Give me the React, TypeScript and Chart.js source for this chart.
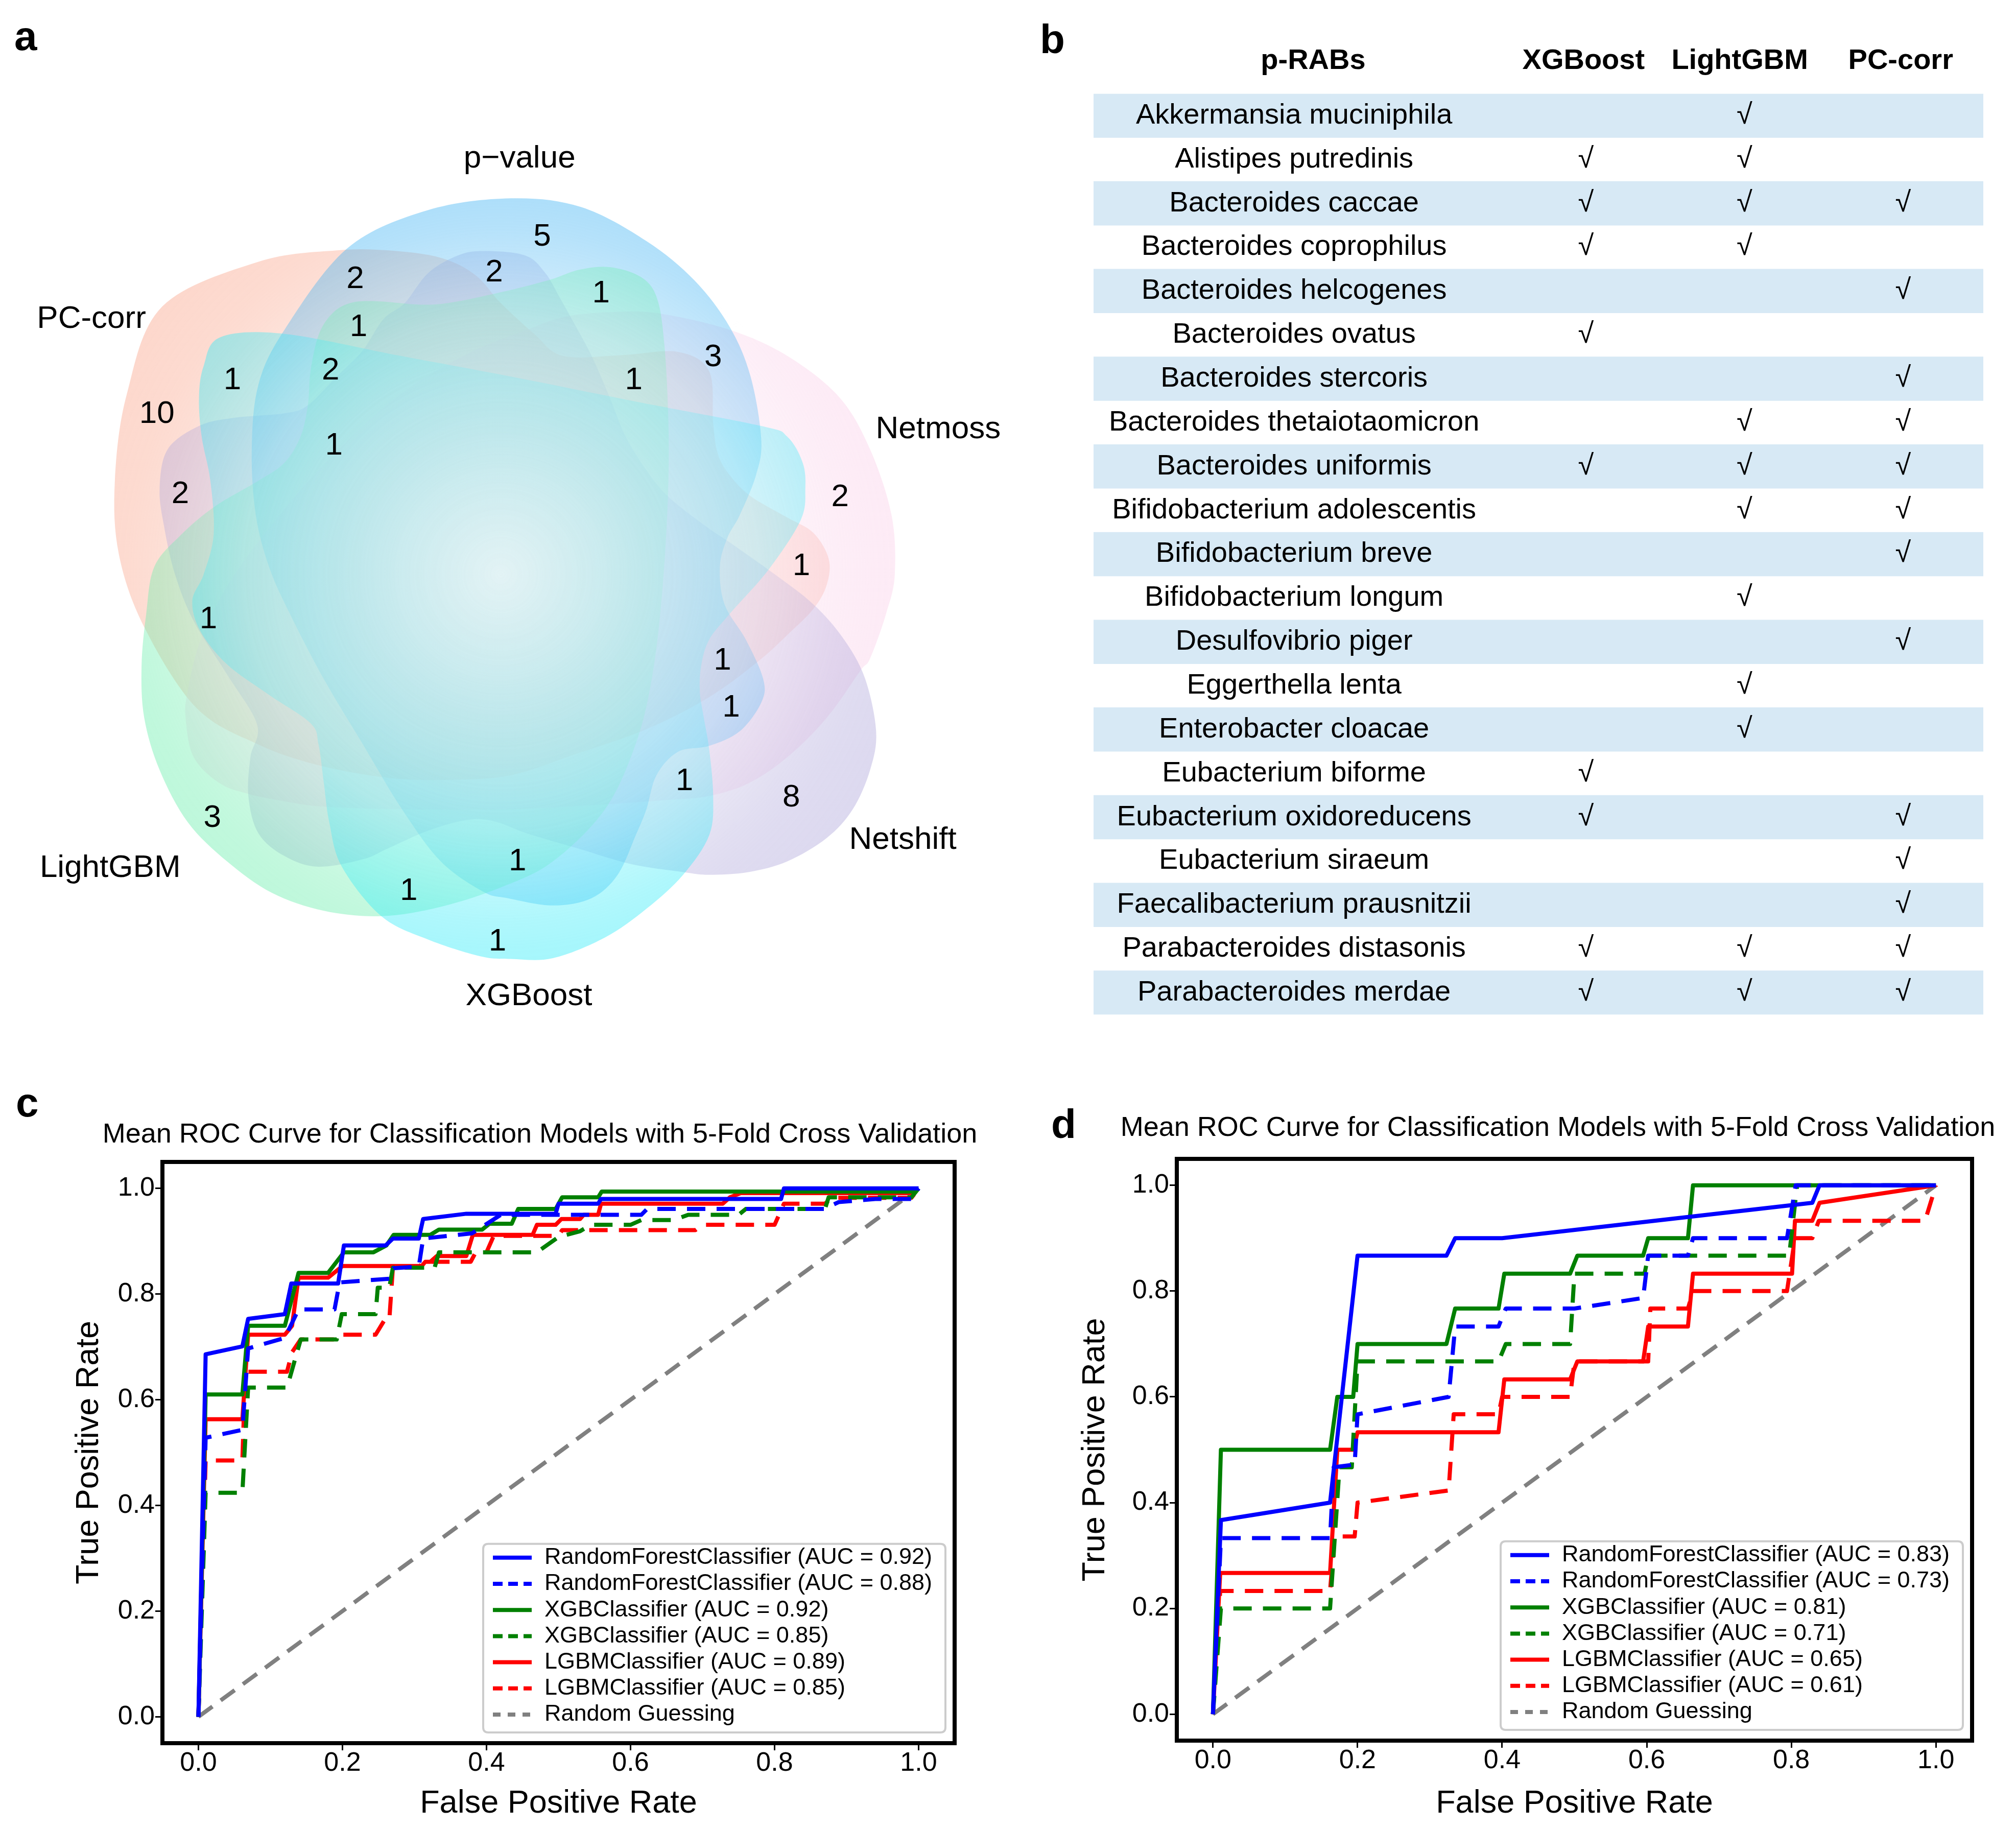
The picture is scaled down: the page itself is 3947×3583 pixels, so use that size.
import React, { useEffect, useRef } from "react";
import { Chart, registerables } from "chart.js";

Chart.register(...registerables);

const FONT = "'Liberation Sans', Arial, Helvetica, sans-serif";
Chart.defaults.font.family = FONT;
Chart.defaults.color = "#000";

type Pt = [number, number];

// ======================= Panel a : six-set Venn =======================
const vennSetNames = ["p\u2212value", "Netmoss", "Netshift", "XGBoost", "LightGBM", "PC-corr"];
const vennRegionCounts = [5, 2, 2, 1, 1, 3, 1, 2, 1, 10, 1, 2, 2, 1, 1, 1, 1, 1, 8, 3, 1, 1, 1];

// ---- layout of the Venn (drawing units, 1 unit = VENN_K px) ----
const VENN_K = 1.3074;
const vennRegionAnchors: Pt[] = [
  [812, 355], [532, 418], [740, 408], [900, 440], [537, 490], [1068, 535], [348, 570], [495, 555],
  [949, 570], [235, 620], [500, 668], [1258, 745], [270, 740], [1200, 848], [312, 928], [1082, 990],
  [1095, 1060], [1025, 1170], [1185, 1195], [318, 1225], [775, 1290], [612, 1335], [745, 1410],
];
const vennSetLabelAnchors: Pt[] = [[778, 238], [1405, 643], [1352, 1258], [792, 1492], [165, 1300], [137, 478]];
const vennColors: [number, number, number][] = [
  [62, 178, 243],   // p-value
  [250, 208, 233],  // Netmoss
  [178, 170, 220],  // Netshift
  [47, 235, 248],   // XGBoost
  [105, 238, 172],  // LightGBM
  [250, 168, 143],  // PC-corr
];
const vennDrawOrder = [5, 1, 2, 0, 4, 3];
const VENN_CENTER: Pt = [750, 860];
const vennShapes: Pt[][] = [
  // p-value
  [[765, 297], [870, 310], [968, 361], [1040, 420], [1093, 490], [1124, 564], [1140, 658], [1132, 712], [1108, 771],
   [1089, 806], [1078, 849], [1085, 905], [1117, 958], [1143, 1017], [1140, 1052], [1108, 1095], [1062, 1117],
   [1015, 1126], [983, 1161], [968, 1212], [952, 1251], [925, 1310], [886, 1345], [828, 1356], [760, 1345],
   [723, 1335], [660, 1290], [602, 1212], [543, 1114], [485, 1017], [434, 919], [403, 849], [383, 771],
   [377, 673], [387, 576], [426, 494], [520, 372], [640, 315]],
  // Netmoss
  [[789, 494], [848, 474], [925, 467], [991, 470], [1093, 494], [1179, 533], [1257, 595], [1303, 673], [1335, 771],
   [1340, 860], [1327, 919], [1303, 986], [1288, 1005], [1238, 1075], [1179, 1134], [1121, 1173], [1062, 1192],
   [1000, 1198], [900, 1205], [760, 1212], [600, 1212], [485, 1208], [426, 1200], [372, 1189], [329, 1173],
   [290, 1134], [278, 1075], [281, 1036], [300, 960], [345, 870], [420, 770], [500, 680], [600, 590], [700, 530]],
  // Netshift
  [[606, 454], [640, 410], [680, 385], [719, 376], [785, 382], [816, 408], [839, 447], [863, 490], [886, 533],
   [913, 595], [937, 654], [968, 704], [1000, 743], [1054, 786], [1101, 818], [1160, 860], [1218, 905],
   [1262, 955], [1295, 1015], [1312, 1095], [1303, 1153], [1277, 1212], [1238, 1255], [1179, 1290], [1121, 1306],
   [1062, 1310], [1023, 1306], [945, 1294], [867, 1271], [789, 1248], [740, 1230], [699, 1228], [641, 1244],
   [582, 1270], [543, 1287], [476, 1298], [426, 1282], [387, 1248], [372, 1193], [375, 1134], [385, 1085],
   [340, 1010], [290, 930], [262, 860], [246, 790], [239, 732], [251, 673], [298, 638], [348, 626], [426, 619],
   [461, 607], [504, 564], [543, 525], [574, 478]],
  // XGBoost
  [[330, 505], [426, 500], [600, 533], [765, 564], [950, 601], [1140, 638], [1179, 654], [1202, 693], [1206, 732],
   [1199, 779], [1151, 853], [1093, 919], [1062, 958], [1050, 997], [1048, 1036], [1054, 1075], [1062, 1122],
   [1068, 1192], [1062, 1251], [1023, 1310], [968, 1361], [906, 1404], [828, 1435], [765, 1436], [719, 1432],
   [641, 1407], [571, 1372], [512, 1298], [493, 1231], [485, 1173], [477, 1115], [465, 1083], [402, 1040],
   [340, 995], [300, 945], [288, 900], [305, 860], [320, 800], [315, 720], [302, 654], [298, 595], [305, 548]],
  // LightGBM
  [[563, 451], [650, 456], [740, 440], [820, 420], [867, 404], [913, 400], [960, 415], [984, 447], [995, 517],
   [1001, 634], [1000, 751], [991, 895], [976, 1017], [952, 1114], [906, 1212], [828, 1290], [750, 1329],
   [660, 1358], [571, 1372], [485, 1364], [407, 1337], [340, 1290], [281, 1231], [239, 1153], [216, 1075],
   [212, 997], [219, 919], [231, 849], [270, 802], [321, 759], [387, 720], [426, 693], [450, 654], [461, 607],
   [465, 556], [477, 502], [497, 470], [524, 454]],
  // PC-corr
  [[243, 459], [387, 392], [504, 375], [582, 375], [660, 386], [712, 412], [750, 454], [800, 500], [843, 533],
   [930, 532], [1015, 527], [1062, 556], [1068, 634], [1075, 680], [1093, 712], [1124, 743], [1179, 775],
   [1218, 798], [1241, 837], [1238, 876], [1218, 912], [1180, 950], [1136, 990], [1062, 1044], [968, 1092],
   [860, 1130], [765, 1161], [670, 1168], [582, 1165], [477, 1146], [387, 1115], [294, 1060], [216, 939],
   [178, 830], [172, 720], [190, 590]],
];

// ======================= Panel b : table =======================
const species = [
  "Akkermansia muciniphila", "Alistipes putredinis", "Bacteroides caccae", "Bacteroides coprophilus",
  "Bacteroides helcogenes", "Bacteroides ovatus", "Bacteroides stercoris", "Bacteroides thetaiotaomicron",
  "Bacteroides uniformis", "Bifidobacterium adolescentis", "Bifidobacterium breve", "Bifidobacterium longum",
  "Desulfovibrio piger", "Eggerthella lenta", "Enterobacter cloacae", "Eubacterium biforme",
  "Eubacterium oxidoreducens", "Eubacterium siraeum", "Faecalibacterium prausnitzii",
  "Parabacteroides distasonis", "Parabacteroides merdae",
];
const xgboostPicks = [0, 1, 1, 1, 0, 1, 0, 0, 1, 0, 0, 0, 0, 0, 0, 1, 1, 0, 0, 1, 1];
const lightgbmPicks = [1, 1, 1, 1, 0, 0, 0, 1, 1, 1, 0, 1, 0, 1, 1, 0, 0, 0, 0, 1, 1];
const pccorrPicks = [0, 0, 1, 0, 1, 0, 1, 1, 1, 1, 1, 0, 1, 0, 0, 0, 1, 1, 1, 1, 1];
const tableHeaders = ["p-RABs", "XGBoost", "LightGBM", "PC-corr"];
// column positions (layout, in column units)
const TABLE_XMIN = -2.105;
const TABLE_XMAX = 3.506;
const tableHeaderPos = [-0.72, 0.985, 1.97, 2.985];
const tableCheckPos = [1, 2, 3];

// ======================= Panels c, d : ROC =======================
const rocTickValues = [0, 0.2, 0.4, 0.6, 0.8, 1.0];
const rocTitle = "Mean ROC Curve for Classification Models with 5-Fold Cross Validation";

// panel c
const rfSolidC: Pt[] = [[0, 0], [0.01, 0.686], [0.061, 0.701], [0.069, 0.753], [0.12, 0.762], [0.129, 0.82], [0.194, 0.82],
  [0.202, 0.892], [0.26, 0.892], [0.27, 0.905], [0.306, 0.905], [0.312, 0.942], [0.372, 0.952], [0.496, 0.952],
  [0.5, 0.971], [0.555, 0.971], [0.559, 0.98], [0.809, 0.98], [0.813, 1.0], [1, 1]];
const rfDashC: Pt[] = [[0, 0], [0.01, 0.528], [0.061, 0.543], [0.069, 0.697], [0.12, 0.717], [0.139, 0.771], [0.189, 0.771],
  [0.196, 0.822], [0.265, 0.829], [0.271, 0.849], [0.306, 0.852], [0.312, 0.905], [0.38, 0.915], [0.42, 0.95],
  [0.615, 0.95], [0.623, 0.961], [0.869, 0.961], [0.889, 0.974], [0.94, 0.98], [0.99, 0.98], [1, 1]];
const xgbSolidC: Pt[] = [[0, 0], [0.01, 0.61], [0.061, 0.61], [0.069, 0.74], [0.12, 0.74], [0.139, 0.84], [0.18, 0.84],
  [0.202, 0.879], [0.243, 0.879], [0.261, 0.892], [0.271, 0.912], [0.322, 0.912], [0.334, 0.922], [0.394, 0.922],
  [0.404, 0.933], [0.435, 0.933], [0.444, 0.961], [0.496, 0.961], [0.505, 0.983], [0.555, 0.983], [0.56, 0.994],
  [0.99, 0.994], [1, 1]];
const xgbDashC: Pt[] = [[0, 0], [0.01, 0.424], [0.061, 0.424], [0.069, 0.623], [0.123, 0.623], [0.142, 0.714], [0.192, 0.714],
  [0.199, 0.762], [0.246, 0.762], [0.249, 0.812], [0.265, 0.812], [0.27, 0.85], [0.328, 0.85], [0.334, 0.879],
  [0.47, 0.879], [0.5, 0.908], [0.53, 0.919], [0.545, 0.931], [0.6, 0.931], [0.615, 0.94], [0.66, 0.94],
  [0.68, 0.95], [0.75, 0.95], [0.76, 0.961], [0.87, 0.961], [0.875, 0.983], [0.99, 0.983], [1, 1]];
const lgbmSolidC: Pt[] = [[0, 0], [0.01, 0.563], [0.061, 0.563], [0.069, 0.723], [0.12, 0.723], [0.13, 0.74], [0.139, 0.831],
  [0.18, 0.831], [0.2, 0.853], [0.31, 0.853], [0.315, 0.861], [0.322, 0.861], [0.331, 0.872], [0.372, 0.872],
  [0.381, 0.912], [0.464, 0.912], [0.47, 0.931], [0.496, 0.931], [0.504, 0.942], [0.53, 0.942], [0.535, 0.95],
  [0.555, 0.95], [0.559, 0.971], [0.728, 0.971], [0.738, 0.983], [0.753, 0.991], [0.99, 0.991], [1, 1]];
const lgbmDashC: Pt[] = [[0, 0], [0.01, 0.485], [0.061, 0.485], [0.065, 0.653], [0.123, 0.653], [0.13, 0.69], [0.142, 0.714],
  [0.192, 0.714], [0.2, 0.723], [0.246, 0.723], [0.258, 0.75], [0.265, 0.75], [0.27, 0.85], [0.306, 0.85],
  [0.312, 0.861], [0.378, 0.861], [0.385, 0.879], [0.4, 0.879], [0.41, 0.91], [0.5, 0.91], [0.505, 0.921],
  [0.69, 0.921], [0.7, 0.931], [0.8, 0.931], [0.813, 0.971], [0.87, 0.971], [0.88, 0.982], [0.99, 0.982], [1, 1]];
const chanceLine: Pt[] = [[0, 0], [1, 1]];
const rocLabelsC = [
  "RandomForestClassifier (AUC = 0.92)", "RandomForestClassifier (AUC = 0.88)",
  "XGBClassifier (AUC = 0.92)", "XGBClassifier (AUC = 0.85)",
  "LGBMClassifier (AUC = 0.89)", "LGBMClassifier (AUC = 0.85)", "Random Guessing",
];

// panel d
const rfSolidD: Pt[] = [[0, 0], [0.011, 0.367], [0.162, 0.4], [0.2, 0.867], [0.323, 0.867], [0.335, 0.9], [0.4, 0.9],
  [0.829, 0.967], [0.839, 1.0], [1, 1]];
const rfDashD: Pt[] = [[0, 0], [0.011, 0.333], [0.162, 0.333], [0.167, 0.467], [0.196, 0.472], [0.2, 0.567], [0.326, 0.6],
  [0.335, 0.733], [0.395, 0.733], [0.405, 0.767], [0.5, 0.767], [0.595, 0.787], [0.602, 0.867], [0.657, 0.867],
  [0.664, 0.9], [0.794, 0.9], [0.806, 1.0], [1, 1]];
const xgbSolidD: Pt[] = [[0, 0], [0.011, 0.5], [0.162, 0.5], [0.172, 0.6], [0.194, 0.6], [0.2, 0.7], [0.323, 0.7],
  [0.335, 0.767], [0.395, 0.767], [0.403, 0.833], [0.494, 0.833], [0.504, 0.867], [0.595, 0.867], [0.602, 0.9],
  [0.657, 0.9], [0.664, 1.0], [1, 1]];
const xgbDashD: Pt[] = [[0, 0], [0.011, 0.2], [0.162, 0.2], [0.175, 0.467], [0.192, 0.467], [0.2, 0.667], [0.395, 0.667],
  [0.405, 0.7], [0.494, 0.7], [0.5, 0.833], [0.597, 0.833], [0.602, 0.867], [0.797, 0.867], [0.808, 1.0], [1, 1]];
const lgbmSolidD: Pt[] = [[0, 0], [0.01, 0.267], [0.162, 0.267], [0.172, 0.5], [0.194, 0.5], [0.2, 0.533], [0.395, 0.533],
  [0.403, 0.633], [0.494, 0.633], [0.504, 0.667], [0.595, 0.667], [0.602, 0.733], [0.657, 0.733], [0.664, 0.833],
  [0.801, 0.833], [0.805, 0.933], [0.829, 0.933], [0.839, 0.967], [1, 1]];
const lgbmDashD: Pt[] = [[0, 0], [0.01, 0.233], [0.162, 0.233], [0.168, 0.336], [0.196, 0.336], [0.2, 0.4], [0.326, 0.423],
  [0.333, 0.567], [0.395, 0.567], [0.4, 0.6], [0.494, 0.6], [0.5, 0.667], [0.602, 0.667], [0.605, 0.767],
  [0.657, 0.767], [0.664, 0.8], [0.794, 0.8], [0.805, 0.9], [0.829, 0.9], [0.838, 0.933], [0.985, 0.933], [1, 1]];
const rocLabelsD = [
  "RandomForestClassifier (AUC = 0.83)", "RandomForestClassifier (AUC = 0.73)",
  "XGBClassifier (AUC = 0.81)", "XGBClassifier (AUC = 0.71)",
  "LGBMClassifier (AUC = 0.65)", "LGBMClassifier (AUC = 0.61)", "Random Guessing",
];

// ======================= plugins =======================
function closedSpline(ctx: CanvasRenderingContext2D, pts: Pt[]) {
  const n = pts.length;
  ctx.moveTo(pts[0][0], pts[0][1]);
  for (let i = 0; i < n; i++) {
    const p0 = pts[(i - 1 + n) % n], p1 = pts[i], p2 = pts[(i + 1) % n], p3 = pts[(i + 2) % n];
    ctx.bezierCurveTo(
      p1[0] + (p2[0] - p0[0]) / 6, p1[1] + (p2[1] - p0[1]) / 6,
      p2[0] - (p3[0] - p1[0]) / 6, p2[1] - (p3[1] - p1[1]) / 6,
      p2[0], p2[1]
    );
  }
  ctx.closePath();
}

const vennPlugin = {
  id: "vennShapes",
  beforeDatasetsDraw(chart: any) {
    const { ctx } = chart;
    const xs = chart.scales.x, ys = chart.scales.y;
    const px = (p: Pt): Pt => [xs.getPixelForValue(p[0]), ys.getPixelForValue(p[1])];
    const c = px(VENN_CENTER);
    const unit = xs.getPixelForValue(1) - xs.getPixelForValue(0);
    const R = 700 * unit;
    ctx.save();
    for (const idx of vennDrawOrder) {
      const [r, g, b] = vennColors[idx];
      const grad = ctx.createRadialGradient(c[0], c[1], 0, c[0], c[1], R);
      grad.addColorStop(0, `rgba(${r},${g},${b},0.10)`);
      grad.addColorStop(0.55, `rgba(${r},${g},${b},0.26)`);
      grad.addColorStop(0.8, `rgba(${r},${g},${b},0.42)`);
      grad.addColorStop(1, `rgba(${r},${g},${b},0.48)`);
      ctx.beginPath();
      closedSpline(ctx, vennShapes[idx].map(px));
      ctx.fillStyle = grad;
      ctx.fill();
    }
    const gR = 520 * unit;
    const glow = ctx.createRadialGradient(c[0], c[1], 0, c[0], c[1], gR);
    glow.addColorStop(0, "rgba(255,255,255,0.5)");
    glow.addColorStop(0.6, "rgba(255,255,255,0.25)");
    glow.addColorStop(1, "rgba(255,255,255,0)");
    ctx.beginPath();
    ctx.arc(c[0], c[1], gR, 0, Math.PI * 2);
    ctx.fillStyle = glow;
    ctx.fill();
    ctx.restore();
  },
  afterDatasetsDraw(chart: any) {
    const { ctx } = chart;
    const xs = chart.scales.x, ys = chart.scales.y;
    const meta = chart.getDatasetMeta(0);
    const ds = chart.data.datasets[0];
    ctx.save();
    ctx.fillStyle = "#000";
    ctx.textAlign = "center";
    ctx.textBaseline = "middle";
    ctx.font = `62px ${FONT}`;
    meta.data.forEach((el: any, i: number) => {
      ctx.fillText(String(ds.data[i].count), el.x, el.y);
    });
    vennSetNames.forEach((name, i) => {
      const p = vennSetLabelAnchors[i];
      ctx.fillText(name, xs.getPixelForValue(p[0]), ys.getPixelForValue(p[1]));
    });
    ctx.restore();
  },
};

const checkPlugin = {
  id: "checkMarks",
  afterDatasetsDraw(chart: any) {
    const { ctx } = chart;
    const xs = chart.scales.x, ys = chart.scales.y;
    const cols = [xgboostPicks, lightgbmPicks, pccorrPicks];
    ctx.save();
    ctx.fillStyle = "#000";
    ctx.textAlign = "center";
    ctx.textBaseline = "middle";
    ctx.font = `56px 'Liberation Sans', 'DejaVu Sans', sans-serif`;
    cols.forEach((col, ci) => {
      col.forEach((v, ri) => {
        if (v) ctx.fillText("\u221A", xs.getPixelForValue(tableCheckPos[ci]), ys.getPixelForValue(ri));
      });
    });
    ctx.restore();
  },
};

const framePlugin = {
  id: "frame",
  afterDatasetsDraw(chart: any) {
    const { ctx, chartArea: a } = chart;
    ctx.save();
    ctx.strokeStyle = "#000";
    ctx.lineWidth = 8;
    ctx.setLineDash([]);
    ctx.strokeRect(a.left, a.top, a.right - a.left, a.bottom - a.top);
    ctx.restore();
  },
};

function roundedRect(ctx: CanvasRenderingContext2D, x: number, y: number, w: number, h: number, r: number) {
  ctx.beginPath();
  ctx.moveTo(x + r, y);
  ctx.lineTo(x + w - r, y);
  ctx.quadraticCurveTo(x + w, y, x + w, y + r);
  ctx.lineTo(x + w, y + h - r);
  ctx.quadraticCurveTo(x + w, y + h, x + w - r, y + h);
  ctx.lineTo(x + r, y + h);
  ctx.quadraticCurveTo(x, y + h, x, y + h - r);
  ctx.lineTo(x, y + r);
  ctx.quadraticCurveTo(x, y, x + r, y);
  ctx.closePath();
}

const rocLegendPlugin = {
  id: "rocLegend",
  afterDraw(chart: any) {
    const { ctx, chartArea } = chart;
    const ds = chart.data.datasets;
    ctx.save();
    ctx.font = `45px ${FONT}`;
    const textW = Math.max(...ds.map((d: any) => ctx.measureText(d.label).width));
    const rowH = 51.2;
    const w = 120 + textW + 26;
    const h = 27 + rowH * (ds.length - 1) + 35;
    const right = chartArea.right - 18;
    const bottom = chartArea.bottom - 21;
    const left = right - w;
    const top = bottom - h;
    roundedRect(ctx, left, top, w, h, 10);
    ctx.fillStyle = "rgba(255,255,255,0.8)";
    ctx.fill();
    ctx.strokeStyle = "#CCCCCC";
    ctx.lineWidth = 4;
    ctx.stroke();
    ds.forEach((d: any, i: number) => {
      const y = top + 27 + i * rowH;
      ctx.beginPath();
      ctx.strokeStyle = d.borderColor;
      ctx.lineWidth = 8;
      ctx.lineCap = "butt";
      const dashed = d.borderDash && d.borderDash.length;
      ctx.setLineDash(dashed ? (i === ds.length - 1 ? [15, 14] : [19, 11]) : []);
      ctx.moveTo(left + 19, y);
      ctx.lineTo(left + 95, y);
      ctx.stroke();
      ctx.setLineDash([]);
      ctx.fillStyle = "#000";
      ctx.textAlign = "left";
      ctx.textBaseline = "middle";
      ctx.fillText(d.label, left + 120, y);
    });
    ctx.restore();
  },
};

// ======================= configs =======================
function vennConfig(W: number, H: number): any {
  return {
    type: "scatter",
    data: {
      datasets: [{
        label: "Region sizes",
        data: vennRegionCounts.map((count, i) => ({ x: vennRegionAnchors[i][0], y: vennRegionAnchors[i][1], count })),
        pointRadius: 0,
        pointHoverRadius: 0,
      }],
    },
    options: {
      responsive: false, animation: false, devicePixelRatio: 1, events: [],
      layout: { padding: 0 },
      plugins: { legend: { display: false }, tooltip: { enabled: false } },
      scales: {
        x: { type: "linear", min: 0, max: W / VENN_K, display: false },
        y: { type: "linear", min: 0, max: H / VENN_K, reverse: true, display: false },
      },
    },
    plugins: [vennPlugin],
  };
}

function tableConfig(): any {
  return {
    type: "bar",
    data: {
      labels: species,
      datasets: [{
        label: "rows",
        data: species.map((_, i) => (i % 2 === 0 ? [TABLE_XMIN, TABLE_XMAX] : null)),
        backgroundColor: "#D7E9F5",
        borderWidth: 0,
        barPercentage: 1,
        categoryPercentage: 1,
      }],
    },
    options: {
      indexAxis: "y",
      responsive: false, animation: false, devicePixelRatio: 1, events: [],
      layout: { padding: { left: 91, right: 64, top: 0, bottom: 41.5 } },
      plugins: { legend: { display: false }, tooltip: { enabled: false } },
      scales: {
        x: {
          type: "linear", position: "top", min: TABLE_XMIN, max: TABLE_XMAX,
          afterBuildTicks: (s: any) => { s.ticks = tableHeaderPos.map((v) => ({ value: v })); },
          afterFit: (s: any) => { s.height = 183.5; },
          ticks: {
            callback: (_v: any, i: number) => tableHeaders[i],
            font: { size: 56, weight: "bold" }, color: "#000", padding: 30, autoSkip: false, maxRotation: 0,
          },
          grid: { display: false, drawTicks: false },
          border: { display: false },
        },
        y: {
          type: "category",
          afterFit: (s: any) => { s.width = 0; },
          ticks: { z: 1, mirror: true, crossAlign: "center", padding: 30, font: { size: 56 }, color: "#000", autoSkip: false },
          grid: { display: false, drawTicks: false },
          border: { display: false },
        },
      },
    },
    plugins: [checkPlugin],
  };
}

const rocStyles = [
  { c: "#0000FF", d: false }, { c: "#0000FF", d: true },
  { c: "#008000", d: false }, { c: "#008000", d: true },
  { c: "#FF0000", d: false }, { c: "#FF0000", d: true },
  { c: "#808080", d: true },
];

function rocConfig(curves: Pt[][], labels: string[], L: any): any {
  const datasets = curves.map((pts, i) => ({
    label: labels[i],
    data: pts.map(([x, y]) => ({ x, y })),
    showLine: true,
    pointRadius: 0,
    pointHoverRadius: 0,
    borderColor: rocStyles[i].c,
    backgroundColor: rocStyles[i].c,
    borderWidth: 8,
    borderDash: rocStyles[i].d ? (i === 6 ? [34, 20] : [36, 22]) : [],
    borderJoinStyle: "round",
    borderCapStyle: "butt",
    tension: 0,
    fill: false,
  }));
  const tickGrid = { display: true, drawOnChartArea: false, drawTicks: true, tickLength: 14, tickWidth: 3, tickColor: "#000" };
  return {
    type: "scatter",
    data: { datasets },
    options: {
      responsive: false, animation: false, devicePixelRatio: 1, events: [],
      layout: { padding: 0 },
      plugins: {
        legend: { display: false },
        tooltip: { enabled: false },
        title: {
          display: true, text: rocTitle, color: "#000",
          font: { size: 54, weight: "normal" },
          padding: { top: L.tTop, bottom: L.tBot },
        },
      },
      scales: {
        x: {
          type: "linear", position: "bottom", min: -0.05, max: 1.05,
          afterBuildTicks: (s: any) => { s.ticks = rocTickValues.map((v) => ({ value: v })); },
          afterFit: (s: any) => { s.height = L.xH; },
          ticks: { callback: (v: any) => Number(v).toFixed(1), font: { size: 52, lineHeight: 1 }, color: "#000", padding: 0, autoSkip: false, maxRotation: 0 },
          grid: tickGrid,
          border: { display: false },
          title: { display: true, text: "False Positive Rate", color: "#000", font: { size: 63 }, padding: { top: 0, bottom: 13.8 } },
        },
        y: {
          type: "linear", position: "left", min: -0.05, max: 1.05,
          afterBuildTicks: (s: any) => { s.ticks = rocTickValues.map((v) => ({ value: v })); },
          afterFit: (s: any) => { s.width = L.yW; },
          ticks: { callback: (v: any) => Number(v).toFixed(1), font: { size: 52, lineHeight: 1 }, color: "#000", padding: 1, autoSkip: false },
          grid: tickGrid,
          border: { display: false },
          title: { display: true, text: "True Positive Rate", color: "#000", font: { size: 63 }, padding: { top: L.yTitlePad, bottom: 0 } },
        },
        yR: {
          type: "linear", position: "right", min: 0, max: 1, display: true,
          afterFit: (s: any) => { s.width = L.rW; },
          ticks: { display: false },
          grid: { display: false, drawTicks: false },
          border: { display: false },
        },
      },
    },
    plugins: [framePlugin, rocLegendPlugin],
  };
}

// ======================= components =======================
function ChartCanvas({ make, left, top, width, height }: any) {
  const ref = useRef<HTMLCanvasElement>(null);
  useEffect(() => {
    const chart = new Chart(ref.current as HTMLCanvasElement, make());
    return () => chart.destroy();
  }, []);
  return (
    <canvas
      ref={ref}
      width={width}
      height={height}
      style={{ position: "absolute", left, top, width, height }}
    />
  );
}

const letterStyle: any = {
  position: "absolute",
  font: `bold 80px ${FONT}`,
  lineHeight: "80px",
  color: "#000",
};

export default function App() {
  return (
    <div style={{ position: "absolute", left: 0, top: 0, width: 3947, height: 3583, overflow: "hidden", background: "#fff" }}>
      <ChartCanvas make={() => vennConfig(2040, 2060)} left={0} top={0} width={2040} height={2060} />
      <ChartCanvas make={tableConfig} left={2050} top={0} width={1897} height={2050} />
      <ChartCanvas
        make={() => rocConfig([rfSolidC, rfDashC, xgbSolidC, xgbDashC, lgbmSolidC, lgbmDashC, chanceLine], rocLabelsC,
          { yW: 318, rW: 245, xH: 170, tTop: 89.6, tBot: 20.6, yTitlePad: 136.8 })}
        left={0} top={2100} width={2114} height={1483}
      />
      <ChartCanvas
        make={() => rocConfig([rfSolidD, rfDashD, xgbSolidD, xgbDashD, lgbmSolidD, lgbmDashD, chanceLine], rocLabelsD,
          { yW: 204, rW: 139, xH: 175, tTop: 76.6, tBot: 27.6, yTitlePad: 6.8 })}
        left={2100} top={2100} width={1900} height={1483}
      />
      <div style={{ ...letterStyle, left: 28, top: 31 }}>a</div>
      <div style={{ ...letterStyle, left: 2036, top: 37 }}>b</div>
      <div style={{ ...letterStyle, left: 31, top: 2119 }}>c</div>
      <div style={{ ...letterStyle, left: 2058, top: 2161 }}>d</div>
    </div>
  );
}
